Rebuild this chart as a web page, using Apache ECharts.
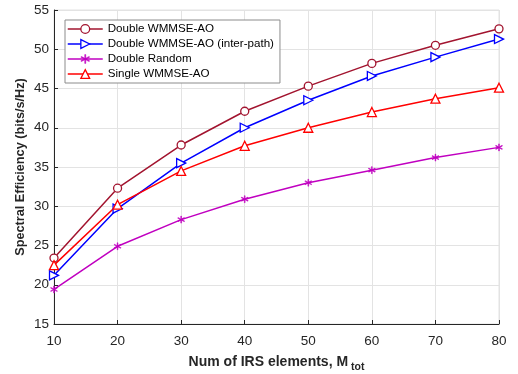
<!DOCTYPE html>
<html>
<head>
<meta charset="utf-8">
<script src="https://cdn.jsdelivr.net/npm/echarts@6/dist/echarts.min.js"></script>
<style>
  html, body { margin: 0; padding: 0; background: #fff; }
  #chart { width: 518px; height: 374px; }
</style>
</head>
<body>
<div id="chart"></div>
<script>
// 横轴：IRS 单元数
const elements = [10, 20, 30, 40, 50, 60, 70, 80];

const seriesNames = [
  "Double WMMSE-AO",
  "Double WMMSE-AO (inter-path)",
  "Double Random",
  "Single WMMSE-AO",
];

const doubleWmmse = [23.4, 32.3, 37.8, 42.1, 45.3, 48.2, 50.5, 52.6];
const doubleInterPath = [21.2, 29.7, 35.5, 40.0, 43.5, 46.6, 49.0, 51.3];
const doubleRandom = [19.4, 24.9, 28.3, 30.9, 33.0, 34.6, 36.2, 37.5];
const singleWmmse = [22.5, 30.2, 34.5, 37.7, 40.0, 42.0, 43.7, 45.1];

const xTicks = [10, 20, 30, 40, 50, 60, 70, 80];
const yTicks = [15, 20, 25, 30, 35, 40, 45, 50, 55];

const chart = echarts.init(document.getElementById("chart"));

const font = "'Liberation Sans', Arial, sans-serif";
// 星号 marker
const asterisk =
  "path://M9,0h2v7.6l6.6,-3.8l1,1.7l-6.6,3.8l6.6,3.8l-1,1.7l-6.6,-3.8v7.6h-2v-7.6l-6.6,3.8l-1,-1.7l6.6,-3.8l-6.6,-3.8l1,-1.7l6.6,3.8z";

const colors = ["#A2142F", "#0000FF", "#C000C0", "#FF0000"];
const symbols = ["circle", "triangle", asterisk, "triangle"];
const sizes = [8, 9, 7, 9];
const rotates = [0, -90, 0, 0];
const filled = [false, false, true, false];

const markStyle = (i) =>
  filled[i]
    ? { color: colors[i], borderColor: colors[i], borderWidth: 0.5 }
    : { color: "#fff", borderColor: colors[i], borderWidth: 1.3 };

const pair = (ys) => elements.map((x, i) => [x, ys[i]]);

const mk = (i, ys) => ({
  name: seriesNames[i],
  type: "line",
  data: pair(ys),
  symbol: symbols[i],
  symbolSize: sizes[i],
  symbolRotate: rotates[i],
  showAllSymbol: true,
  lineStyle: { color: colors[i], width: 1.5 },
  itemStyle: markStyle(i),
  emphasis: { disabled: true },
  animation: false,
  z: 3,
});

chart.setOption({
  backgroundColor: "#fff",
  animation: false,
  grid: {
    left: 54,
    right: 19,
    top: 10,
    bottom: 50,
    containLabel: false,
    outerBoundsMode: "none",
    show: true,
    borderColor: "#e3e3e3",
    borderWidth: 1,
  },
  legend: {
    orient: "vertical",
    left: 65,
    top: 20,
    padding: [3, 6, 3, 2],
    itemWidth: 35,
    itemHeight: 11,
    itemGap: 3,
    borderColor: "#8c8c8c",
    borderWidth: 1,
    backgroundColor: "#fff",
    data: seriesNames.map((name, i) => ({
      name,
      itemStyle: markStyle(i),
      lineStyle: { color: colors[i], width: 1.5 },
    })),
    textStyle: { fontFamily: font, fontSize: 11.6, lineHeight: 12, color: "#000" },
  },
  xAxis: {
    type: "value",
    min: xTicks[0],
    max: xTicks[xTicks.length - 1],
    interval: 10,
    name: "{a|Num of IRS elements, M}{b| tot}",
    nameLocation: "middle",
    nameGap: 27,
    nameMoveOverlap: false,
    nameTextStyle: {
      rich: {
        a: { fontFamily: font, fontSize: 14, fontWeight: "bold", color: "#262626" },
        b: { fontFamily: font, fontSize: 10.5, fontWeight: "bold", color: "#262626", padding: [11, 0, 0, 0] },
      },
    },
    axisLine: { lineStyle: { color: "#262626", width: 1 } },
    axisTick: { inside: true, length: 4, lineStyle: { color: "#262626" } },
    axisLabel: { fontFamily: font, fontSize: 13.5, color: "#262626", margin: 10 },
    splitLine: { show: true, lineStyle: { color: "#e3e3e3", width: 1 } },
  },
  yAxis: {
    type: "value",
    min: yTicks[0],
    max: yTicks[yTicks.length - 1],
    interval: 5,
    name: "Spectral Efficiency (bits/s/Hz)",
    nameLocation: "middle",
    nameGap: 27,
    nameMoveOverlap: false,
    nameTextStyle: { fontFamily: font, fontSize: 12.7, fontWeight: "bold", color: "#262626" },
    axisLine: { show: true, lineStyle: { color: "#262626", width: 1 } },
    axisTick: { show: true, inside: true, length: 4, lineStyle: { color: "#262626" } },
    axisLabel: { fontFamily: font, fontSize: 13.5, color: "#262626", margin: 5 },
    splitLine: { show: true, lineStyle: { color: "#e3e3e3", width: 1 } },
  },
  series: [
    mk(0, doubleWmmse),
    mk(1, doubleInterPath),
    mk(2, doubleRandom),
    mk(3, singleWmmse),
  ],
});
</script>
</body>
</html>
